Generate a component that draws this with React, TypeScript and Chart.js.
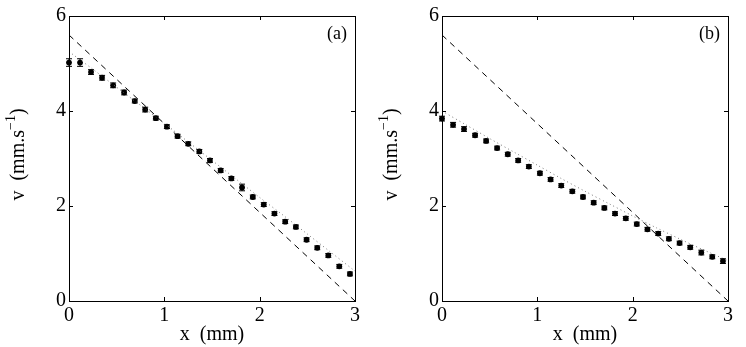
import React, { useEffect, useRef } from "react";
import { Chart, registerables } from "chart.js";

Chart.register(...registerables);

// ---------- data ----------
const xPositions = [0, 0.116, 0.231, 0.347, 0.463, 0.578, 0.69, 0.799, 0.911, 1.027, 1.139, 1.251, 1.367, 1.479, 1.591, 1.703, 1.815, 1.928, 2.043, 2.155, 2.268, 2.38, 2.492, 2.604, 2.72, 2.835, 2.947];

const vA = [5.02, 5.02, 4.82, 4.7, 4.54, 4.39, 4.21, 4.03, 3.85, 3.67, 3.47, 3.31, 3.15, 2.96, 2.75, 2.58, 2.39, 2.19, 2.03, 1.84, 1.67, 1.56, 1.29, 1.12, 0.96, 0.73, 0.57];
const errA = [0.08, 0.08, 0.05, 0.05, 0.05, 0.05, 0.04, 0.05, 0.04, 0.04, 0.04, 0.04, 0.04, 0.04, 0.04, 0.04, 0.07, 0.04, 0.04, 0.04, 0.04, 0.04, 0.04, 0.04, 0.04, 0.04, 0.04];

const vB = [3.84, 3.71, 3.62, 3.49, 3.37, 3.22, 3.09, 2.96, 2.83, 2.69, 2.56, 2.43, 2.31, 2.19, 2.07, 1.96, 1.84, 1.74, 1.62, 1.51, 1.42, 1.31, 1.22, 1.13, 1.02, 0.93, 0.84];
const errB = [0.05, 0.05, 0.05, 0.04, 0.04, 0.04, 0.04, 0.04, 0.04, 0.04, 0.04, 0.04, 0.04, 0.04, 0.04, 0.04, 0.04, 0.04, 0.04, 0.04, 0.04, 0.04, 0.04, 0.04, 0.05, 0.04, 0.05];

const dashedX = [0, 3];
const dashedYA = [5.6, 0];
const dashedYB = [5.6, 0];

const dottedX = [0, 0.25, 0.5, 0.75, 1, 1.25, 1.5, 1.75, 2, 2.25, 2.5, 2.75, 3];
const dottedYA = [5.25, 4.88, 4.5, 4.12, 3.74, 3.35, 2.96, 2.57, 2.18, 1.8, 1.41, 1.02, 0.63];
const dottedYB = [4.0, 3.71, 3.42, 3.14, 2.86, 2.58, 2.31, 2.05, 1.79, 1.54, 1.3, 1.07, 0.85];

const xTicks = [0, 1, 2, 3];
const yTicks = [0, 2, 4, 6];

const panelLabels = ["(a)", "(b)"];

const FONT = "'Liberation Serif', 'Times New Roman', serif";

type PanelProps = { vals: number[]; errs: number[]; dashY: number[]; dotY: number[]; label: string; left: number };

function Panel({ vals, errs, dashY, dotY, label, left }: PanelProps) {
  const ref = useRef<HTMLCanvasElement>(null);
  useEffect(() => {
    if (!ref.current) return;
    const framePlugin = {
      id: "frame",
      afterDatasetsDraw(chart: any) {
        const { ctx, chartArea: a, scales } = chart;
        const xs = scales.x;
        const ys = scales.y;
        ctx.save();
        // error bars
        ctx.strokeStyle = "#000";
        ctx.lineWidth = 1;
        vals.forEach((v, i) => {
          const px = xs.getPixelForValue(xPositions[i]);
          const top = ys.getPixelForValue(v + errs[i]);
          const bot = ys.getPixelForValue(v - errs[i]);
          ctx.beginPath();
          ctx.moveTo(px, top);
          ctx.lineTo(px, bot);
          ctx.moveTo(px - 3, top);
          ctx.lineTo(px + 3, top);
          ctx.moveTo(px - 3, bot);
          ctx.lineTo(px + 3, bot);
          ctx.stroke();
        });
        // frame
        ctx.strokeStyle = "#000";
        ctx.lineWidth = 1;
        ctx.strokeRect(Math.round(a.left) + 0.5, Math.round(a.top) + 0.5, Math.round(a.right - a.left), Math.round(a.bottom - a.top));
        // inside ticks
        const tl = 4;
        xTicks.forEach((t) => {
          const px = Math.round(xs.getPixelForValue(t)) + 0.5;
          ctx.beginPath();
          ctx.moveTo(px, a.bottom);
          ctx.lineTo(px, a.bottom - tl);
          ctx.moveTo(px, a.top);
          ctx.lineTo(px, a.top + tl);
          ctx.stroke();
        });
        yTicks.forEach((t) => {
          const py = Math.round(ys.getPixelForValue(t)) + 0.5;
          ctx.beginPath();
          ctx.moveTo(a.left, py);
          ctx.lineTo(a.left + tl, py);
          ctx.moveTo(a.right, py);
          ctx.lineTo(a.right - tl, py);
          ctx.stroke();
        });
        // panel label
        ctx.fillStyle = "#000";
        ctx.font = `18px ${FONT}`;
        ctx.textAlign = "right";
        ctx.textBaseline = "middle";
        ctx.fillText(label, a.right - 8, a.top + 18);
        // x title
        ctx.font = `20px ${FONT}`;
        ctx.textAlign = "center";
        ctx.fillText("x  (mm)", (a.left + a.right) / 2, 335);
        // y title with superscript
        ctx.translate(19, (a.top + a.bottom) / 2 - 4);
        ctx.rotate(-Math.PI / 2);
        const main = "v  (mm.s";
        const sup = "\u22121";
        const end = ")";
        ctx.font = `20px ${FONT}`;
        const w1 = ctx.measureText(main).width;
        const w3 = ctx.measureText(end).width;
        ctx.font = `14px ${FONT}`;
        const w2 = ctx.measureText(sup).width;
        const total = w1 + w2 + w3;
        let x0 = -total / 2;
        ctx.textAlign = "left";
        ctx.font = `20px ${FONT}`;
        ctx.fillText(main, x0, 0);
        ctx.font = `14px ${FONT}`;
        ctx.fillText(sup, x0 + w1, -8);
        ctx.font = `20px ${FONT}`;
        ctx.fillText(end, x0 + w1 + w2, 0);
        ctx.restore();
      },
    };

    const chart = new Chart(ref.current, {
      type: "scatter",
      data: {
        datasets: [
          {
            type: "line",
            data: dashedX.map((x, i) => ({ x, y: dashY[i] })),
            borderColor: "#000",
            borderWidth: 1,
            borderDash: [6, 5],
            pointRadius: 0,
            fill: false,
          },
          {
            type: "line",
            data: dottedX.map((x, i) => ({ x, y: dotY[i] })),
            borderColor: "#777",
            borderWidth: 1,
            borderDash: [1, 3],
            pointRadius: 0,
            fill: false,
            tension: 0.3,
          },
          {
            data: xPositions.map((x, i) => ({ x, y: vals[i] })),
            backgroundColor: "#000",
            borderColor: "#000",
            pointRadius: 2.9,
            borderWidth: 0,
            clip: false,
          },
        ],
      },
      options: {
        animation: false,
        responsive: false,
        maintainAspectRatio: false,
        layout: { padding: { left: 0, right: 18, top: 16, bottom: 0 } },
        plugins: { legend: { display: false }, tooltip: { enabled: false } },
        scales: {
          x: {
            type: "linear",
            min: 0,
            max: 3,
            afterFit: (s: any) => { s.height = 46; },
            afterBuildTicks: (s: any) => { s.ticks = xTicks.map((v) => ({ value: v })); },
            grid: { display: false, drawTicks: false },
            border: { display: false },
            ticks: { color: "#000", font: { family: FONT, size: 20 }, padding: 3, maxRotation: 0 },
          },
          y: {
            type: "linear",
            min: 0,
            max: 6,
            afterFit: (s: any) => { s.width = 69; },
            afterBuildTicks: (s: any) => { s.ticks = yTicks.map((v) => ({ value: v })); },
            grid: { display: false, drawTicks: false },
            border: { display: false },
            ticks: { color: "#000", font: { family: FONT, size: 20 }, padding: 3 },
          },
        },
      },
      plugins: [framePlugin],
    } as any);
    return () => chart.destroy();
  }, [vals, errs, dashY, dotY, label]);

  return (
    <canvas
      ref={ref}
      width={373}
      height={347}
      style={{ position: "absolute", left, top: 0, width: 373, height: 347 }}
    />
  );
}

export default function App() {
  return (
    <div style={{ position: "fixed", left: 0, top: 0, width: 746, height: 347, background: "#fff" }}>
      <Panel vals={vA} errs={errA} dashY={dashedYA} dotY={dottedYA} label={panelLabels[0]} left={0} />
      <Panel vals={vB} errs={errB} dashY={dashedYB} dotY={dottedYB} label={panelLabels[1]} left={373} />
    </div>
  );
}
